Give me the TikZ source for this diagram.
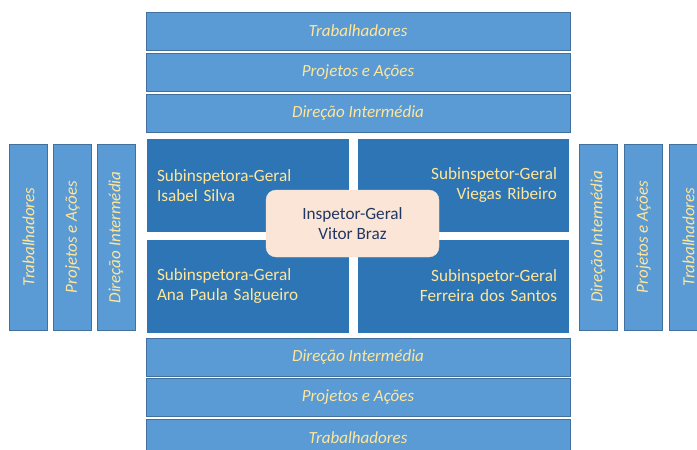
\documentclass[tikz,border=0pt]{standalone}
\usepackage{fontspec}
\setmainfont{Carlito}
\definecolor{barblue}{HTML}{5B9BD5}
\definecolor{barline}{HTML}{41719C}
\definecolor{quadblue}{HTML}{2E75B6}
\definecolor{softyellow}{HTML}{FFE699}
\definecolor{peach}{HTML}{FBE5D6}
\definecolor{navytext}{HTML}{203864}
\tikzset{
  bar/.style={draw=barline, line width=0.8pt, fill=barblue, text=softyellow,
    inner sep=0pt, font=\fontsize{17}{20}\selectfont\itshape},
  hbar/.style={bar, minimum width=424, minimum height=38},
  vbar/.style={bar, rotate=90, minimum width=186, minimum height=38},
  quad/.style={fill=quadblue, text=softyellow, inner sep=0pt,
    minimum height=93, font=\fontsize{17.2}{20}\selectfont},
  chief/.style={draw=white!80!gray, fill=peach, text=navytext, rounded corners=10pt,
    minimum width=173, minimum height=67, inner sep=0pt, align=center,
    font=\fontsize{17.2}{20}\selectfont}
}
\begin{document}
\begin{tikzpicture}[x=1pt, y=-1pt]
\useasboundingbox (0,0) rectangle (697,450);

% bars above
\node [hbar] (topw) at (358,31) {Trabalhadores};
\node [hbar] (topp) at (358,72) {Projetos e Ações};
\node [hbar] (topd) at (358,113) {Direção Intermédia};

% bars below
\node [hbar] (botd) at (358,357) {Direção Intermédia};
\node [hbar] (botp) at (358,397.5) {Projetos e Ações};
\node [hbar] (botw) at (358,438) {Trabalhadores};

% bars left
\node [vbar] (leftw) at (28.5,237) {Trabalhadores};
\node [vbar] (leftp) at (72.5,237) {Projetos e Ações};
\node [vbar] (leftd) at (116,237.5) {Direção Intermédia};

% bars right
\node [vbar] (rightd) at (598,237) {Direção Intermédia};
\node [vbar] (rightp) at (643.5,237) {Projetos e Ações};
\node [vbar] (rightw) at (688.5,237) {Trabalhadores};

% four deputies
\node [quad, minimum width=202, text width=182, align=left, inner xsep=10pt]
  (isabel) at (248,185.5) {Subinspetora-Geral\\Isabel Silva};
\node [quad, minimum width=211, text width=187, align=right, inner xsep=12pt]
  (viegas) at (463.5,185.5) {Subinspetor-Geral\\Viegas Ribeiro};
\node [quad, minimum width=202, text width=182, align=left, inner xsep=10pt]
  (ana) at (248,286) {Subinspetora-Geral\\Ana Paula Salgueiro};
\node [quad, minimum width=211, text width=187, align=right, inner xsep=12pt]
  (ferreira) at (463.5,286) {Subinspetor-Geral\\Ferreira dos Santos};

% head
\node [chief] (vitor) at (352.5,223.5) {Inspetor-Geral\\Vitor Braz};

\end{tikzpicture}
\end{document}
